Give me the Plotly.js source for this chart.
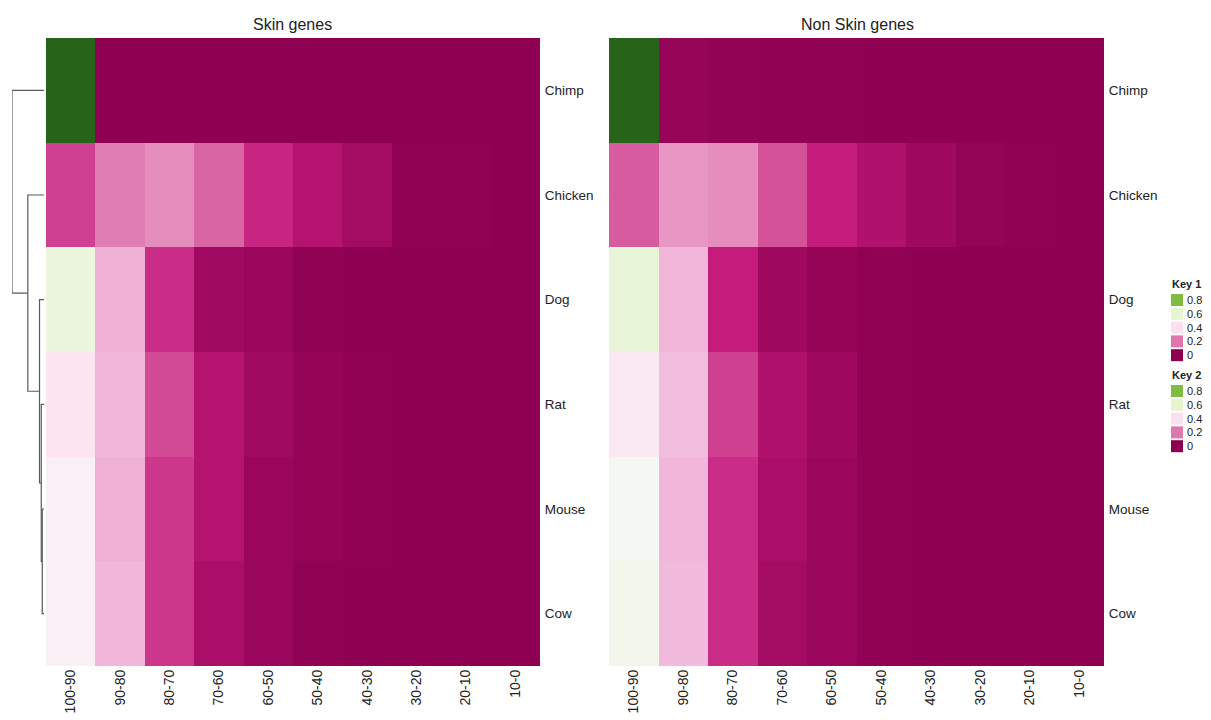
<!DOCTYPE html>
<html>
<head>
<meta charset="utf-8">
<script src="https://cdn.plot.ly/plotly-3.0.1.min.js"></script>
<style>html,body{margin:0;padding:0;background:#fff;}#chart{width:1211px;height:720px;}</style>
</head>
<body>
<div id="chart"></div>
<script>
// ---- data ----
const species = ["Chimp", "Chicken", "Dog", "Rat", "Mouse", "Cow"];
const bins = ["100-90", "90-80", "80-70", "70-60", "60-50", "50-40", "40-30", "30-20", "20-10", "10-0"];

const skinChimp   = [1.00, 0.000, 0.000, 0.000, 0.000, 0.000, 0.000, 0.000, 0.000, 0.000];
const skinChicken = [0.14, 0.21, 0.235, 0.18, 0.11, 0.07, 0.04, 0.005, 0.003, 0.000];
const skinDog     = [0.57, 0.29, 0.12, 0.035, 0.02, 0.004, 0.002, 0.000, 0.000, 0.000];
const skinRat     = [0.42, 0.30, 0.15, 0.07, 0.035, 0.012, 0.005, 0.002, 0.000, 0.000];
const skinMouse   = [0.47, 0.29, 0.13, 0.07, 0.02, 0.012, 0.005, 0.002, 0.000, 0.000];
const skinCow     = [0.47, 0.30, 0.13, 0.05, 0.02, 0.004, 0.002, 0.000, 0.000, 0.000];

const nonChimp    = [1.00, 0.015, 0.008, 0.005, 0.003, 0.002, 0.001, 0.000, 0.000, 0.000];
const nonChicken  = [0.17, 0.25, 0.235, 0.16, 0.10, 0.06, 0.03, 0.01, 0.005, 0.000];
const nonDog      = [0.58, 0.30, 0.10, 0.03, 0.012, 0.005, 0.002, 0.000, 0.000, 0.000];
const nonRat      = [0.44, 0.32, 0.14, 0.06, 0.03, 0.005, 0.002, 0.000, 0.000, 0.000];
const nonMouse    = [0.51, 0.30, 0.12, 0.05, 0.02, 0.005, 0.002, 0.000, 0.000, 0.000];
const nonCow      = [0.53, 0.31, 0.12, 0.04, 0.02, 0.005, 0.002, 0.000, 0.000, 0.000];

// dendrogram merges: [childA, childB, height]; leaves are species names, merges referenced as "m<index>"
const merges = [
  ["Mouse", "Cow", 0.054],
  ["Rat", "m0", 0.086],
  ["Dog", "m1", 0.14],
  ["Chicken", "m2", 0.505],
  ["Chimp", "m3", 1.0]
];

const keyValues = [0.8, 0.6, 0.4, 0.2, 0];
const keyLabels = ["0.8", "0.6", "0.4", "0.2", "0"];
const keyTitles = ["Key 1", "Key 2"];
const panelTitles = ["Skin genes", "Non Skin genes"];

// ---- colours ----
const piyg = [
  [0.0, "#8e0152"], [0.1, "#c51b7d"], [0.2, "#de77ae"], [0.3, "#f1b6da"], [0.4, "#fde0ef"],
  [0.5, "#f7f7f7"], [0.6, "#e6f5d0"], [0.7, "#b8e186"], [0.8, "#7fbc41"], [0.9, "#4d9221"], [1.0, "#276419"]
];
function colorAt(v) {
  for (let i = 0; i < piyg.length; i++) if (Math.abs(piyg[i][0] - v) < 1e-9) return piyg[i][1];
  return "#000";
}

const W = 1211, H = 720;
const px = x => x / W;
const py = y => 1 - y / H;
const FONT = "Liberation Sans, Arial, Helvetica, sans-serif";

const skinZ = [skinChimp, skinChicken, skinDog, skinRat, skinMouse, skinCow];
const nonZ = [nonChimp, nonChicken, nonDog, nonRat, nonMouse, nonCow];

const hmCommon = {
  type: "heatmap", colorscale: piyg, zmin: 0, zmax: 1, showscale: false,
  x: bins, y: species, hoverinfo: "x+y+z"
};
const traces = [
  Object.assign({}, hmCommon, {z: skinZ, xaxis: "x", yaxis: "y"}),
  Object.assign({}, hmCommon, {z: nonZ, xaxis: "x2", yaxis: "y2"})
];

// dendrogram segments
const pos = {}, hgt = {};
species.forEach((s, i) => { pos[s] = i; hgt[s] = 0; });
const dx = [], dy = [];
merges.forEach((m, k) => {
  const [a, b, h] = m;
  dx.push(hgt[a], h, h, hgt[b], null);
  dy.push(pos[a], pos[a], pos[b], pos[b], null);
  pos["m" + k] = (pos[a] + pos[b]) / 2;
  hgt["m" + k] = h;
});
traces.push({
  type: "scatter", mode: "lines", x: dx, y: dy, xaxis: "x3", yaxis: "y3",
  line: {color: "#5a5a5a", width: 1.2}, hoverinfo: "skip", showlegend: false
});

const yTop = 38, yBot = 666;
const axX = (d) => ({
  domain: d, type: "category", tickangle: -90, showgrid: false, zeroline: false,
  showline: false, ticks: "", tickfont: {family: FONT, size: 14, color: "#222"}, fixedrange: true
});
const axY = (d, anchor) => ({
  domain: d, type: "category", autorange: "reversed", side: "right", anchor: anchor,
  showgrid: false, zeroline: false, showline: false, ticks: "outside", ticklen: 1, tickcolor: "rgba(0,0,0,0)",
  tickfont: {family: FONT, size: 13.5, color: "#222"}, fixedrange: true
});

const yDom = [py(yBot), py(yTop)];
const annotations = [];
const shapes = [];
[[292, panelTitles[0]], [857, panelTitles[1]]].forEach(([cx, t]) => {
  annotations.push({xref: "paper", yref: "paper", x: px(cx), y: py(25), text: t, showarrow: false,
    xanchor: "center", yanchor: "middle", font: {family: FONT, size: 16, color: "#222"}});
});

// keys
const keyTop = [284, 375];
keyTitles.forEach((kt, ki) => {
  const t0 = keyTop[ki];
  annotations.push({xref: "paper", yref: "paper", x: px(1170), y: py(t0), text: "<b>" + kt + "</b>",
    showarrow: false, xanchor: "left", yanchor: "middle", font: {family: FONT, size: 11, color: "#222"}});
  keyValues.forEach((v, i) => {
    const cy = t0 + 16 + i * 13.8;
    shapes.push({type: "rect", xref: "paper", yref: "paper", x0: px(1171), x1: px(1183),
      y0: py(cy - 6), y1: py(cy + 6), fillcolor: colorAt(v), line: {width: 0}});
    annotations.push({xref: "paper", yref: "paper", x: px(1185), y: py(cy), text: keyLabels[i],
      showarrow: false, xanchor: "left", yanchor: "middle", font: {family: FONT, size: 11, color: "#222"}});
  });
});

const layout = {
  width: W, height: H, margin: {l: 0, r: 0, t: 0, b: 0},
  paper_bgcolor: "#fff", plot_bgcolor: "#fff", showlegend: false,
  font: {family: FONT},
  xaxis: axX([px(46), px(540)]),
  yaxis: axY(yDom, "x"),
  xaxis2: axX([px(609), px(1104)]),
  yaxis2: axY(yDom, "x2"),
  xaxis3: {domain: [px(12), px(44)], range: [1.0, 0], visible: false, fixedrange: true},
  yaxis3: {domain: yDom, range: [5.5, -0.5], visible: false, anchor: "x3", fixedrange: true},
  annotations: annotations,
  shapes: shapes
};
layout.xaxis.anchor = "y";
layout.xaxis2.anchor = "y2";

Plotly.newPlot("chart", traces, layout, {displayModeBar: false, staticPlot: true});
</script>
</body>
</html>
